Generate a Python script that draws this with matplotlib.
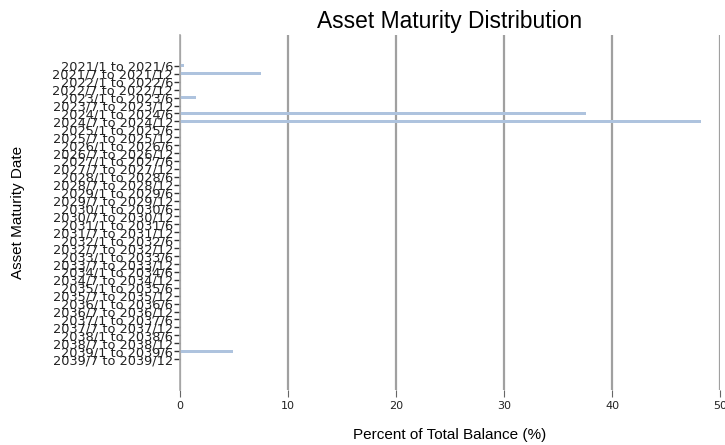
import matplotlib
matplotlib.use("Agg")
import matplotlib.pyplot as plt


YEARS = list(range(2021, 2040))
PERIODS = []
for yr in YEARS:
    PERIODS.append(f"{yr}/1 to {yr}/6")
    PERIODS.append(f"{yr}/7 to {yr}/12")

# percent of total balance per maturity bucket (zero where no bar is drawn)
BALANCE_PCT = {
    "2021/1 to 2021/6": 0.4,
    "2021/7 to 2021/12": 7.5,
    "2023/1 to 2023/6": 1.45,
    "2024/1 to 2024/6": 37.6,
    "2024/7 to 2024/12": 48.2,
    "2039/1 to 2039/6": 4.9,
}
VALUES = [BALANCE_PCT.get(p, 0.0) for p in PERIODS]

X_TICKS = [0, 10, 20, 30, 40, 50]


def main() -> int:
    fig = plt.figure(figsize=(7.25, 4.45), dpi=100)
    ax = fig.add_axes([180 / 725, 1 - 390 / 445, 540 / 725, 355 / 445])

    pos = list(range(len(PERIODS)))
    ax.barh(pos, VALUES, height=0.4, color="#aec3de", zorder=2)

    ax.set_xlim(0, 50)
    ax.set_ylim(len(PERIODS) - 1 + 3.9, -3.9)
    ax.set_yticks(pos)
    ax.set_yticklabels(PERIODS, fontsize=9.3, family="DejaVu Sans", color="#222222")
    ax.set_xticks(X_TICKS)
    ax.set_xticklabels([str(t) for t in X_TICKS], fontsize=8, family="DejaVu Sans",
                       color="#222222")

    ax.xaxis.grid(True, color="#a0a0a0", linewidth=1.6, zorder=0)
    ax.yaxis.grid(False)
    for side in ["top", "right", "bottom"]:
        ax.spines[side].set_visible(False)
    ax.spines["left"].set_color("#a8a8a8")
    ax.spines["left"].set_linewidth(1.2)

    ax.tick_params(axis="x", length=5, color="#666666", pad=3)
    ax.tick_params(axis="y", length=4, color="#333333", width=1, pad=1)

    ax.set_xlabel("Percent of Total Balance (%)", fontsize=11,
                  family="Liberation Sans", labelpad=12)
    ax.set_ylabel("Asset Maturity Date", fontsize=11, family="Liberation Sans",
                  labelpad=20)
    ax.set_title("Asset Maturity Distribution", fontsize=16.4,
                 family="Liberation Sans", pad=5)

    fig.savefig("out.png", dpi=100)
    plt.close(fig)
    return 0


if __name__ == "__main__":
    raise SystemExit(main())
